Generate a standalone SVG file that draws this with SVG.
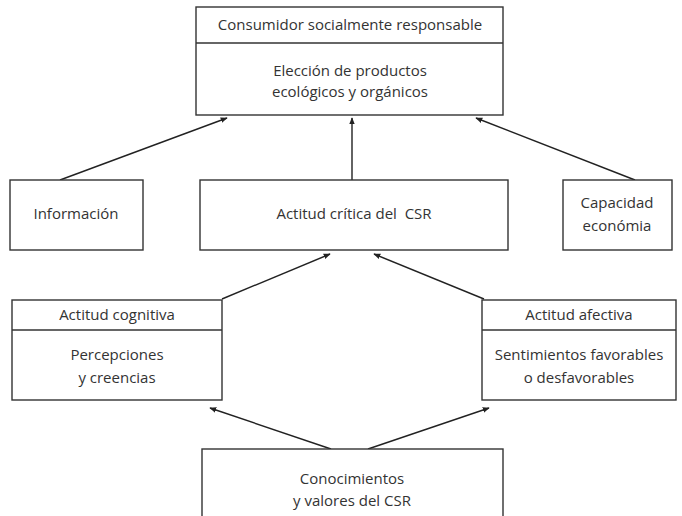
<svg xmlns="http://www.w3.org/2000/svg" width="682" height="516" viewBox="0 0 682 516">
<defs>
<marker id="ah" viewBox="0 0 10 10" refX="9" refY="5" markerWidth="7" markerHeight="7" markerUnits="userSpaceOnUse" orient="auto">
<path d="M0,1 L10,5 L0,9 z" fill="#222"/>
</marker>
<style>
.box{fill:#fff;stroke:#333;stroke-width:1.4}
.t{font-family:"Open Sans","Noto Sans",sans-serif;font-size:15px;fill:#333;text-anchor:middle}
.c{stroke:#222;stroke-width:1.4;fill:none;marker-end:url(#ah)}
</style>
</defs>
<rect width="682" height="516" fill="#fff"/>
<g id="connectors">
<line class="c" x1="60" y1="180" x2="227" y2="118"/>
<line class="c" x1="352" y1="180" x2="352" y2="118"/>
<line class="c" x1="635" y1="180" x2="476" y2="118"/>
<line class="c" x1="222" y1="299" x2="330" y2="254"/>
<line class="c" x1="484" y1="299" x2="374" y2="254"/>
<line class="c" x1="331" y1="449" x2="210" y2="408"/>
<line class="c" x1="368" y1="449" x2="489" y2="408"/>
</g>
<g id="consumidor">
<rect class="box" x="196" y="7" width="307" height="108"/>
<line class="box" x1="196" y1="43" x2="503" y2="43"/>
<text class="t" x="350" y="30">Consumidor socialmente responsable</text>
<text class="t" x="350" y="76">Elección de productos</text>
<text class="t" x="350" y="97">ecológicos y orgánicos</text>
</g>
<g id="informacion">
<rect class="box" x="10" y="180" width="133" height="70"/>
<text class="t" x="76" y="219">Información</text>
</g>
<g id="actitud-critica">
<rect class="box" x="200" y="180" width="308" height="70"/>
<text class="t" x="354" y="219" xml:space="preserve">Actitud crítica del  CSR</text>
</g>
<g id="capacidad">
<rect class="box" x="563" y="180" width="109" height="70"/>
<text class="t" x="617" y="208">Capacidad</text>
<text class="t" x="617" y="231">económia</text>
</g>
<g id="actitud-cognitiva">
<rect class="box" x="12" y="300" width="210" height="100"/>
<line class="box" x1="12" y1="330" x2="222" y2="330"/>
<text class="t" x="117" y="320">Actitud cognitiva</text>
<text class="t" x="117" y="360">Percepciones</text>
<text class="t" x="117" y="383">y creencias</text>
</g>
<g id="actitud-afectiva">
<rect class="box" x="482" y="300" width="194" height="100"/>
<line class="box" x1="482" y1="330" x2="676" y2="330"/>
<text class="t" x="579" y="320">Actitud afectiva</text>
<text class="t" x="579" y="360">Sentimientos favorables</text>
<text class="t" x="579" y="383">o desfavorables</text>
</g>
<g id="conocimientos">
<rect class="box" x="202" y="449" width="301" height="80"/>
<text class="t" x="352" y="484">Conocimientos</text>
<text class="t" x="352" y="506">y valores del CSR</text>
</g>
</svg>
